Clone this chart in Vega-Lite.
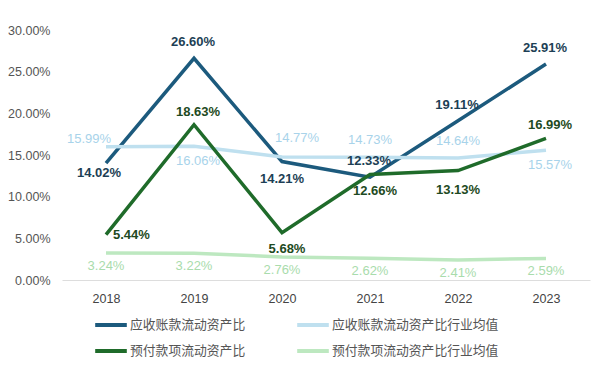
{
"$schema": "https://vega.github.io/schema/vega-lite/v6.json",
"width": 528, "height": 250,
"autosize": "none",
"padding": {"left": 62, "top": 30, "right": 10, "bottom": 98},
"config": {"view": {"stroke": null}, "font": "Liberation Sans"},
"data": {"values": [
{"year": "2018", "series": "应收账款流动资产比", "value": 0.1402},
{"year": "2019", "series": "应收账款流动资产比", "value": 0.2660},
{"year": "2020", "series": "应收账款流动资产比", "value": 0.1421},
{"year": "2021", "series": "应收账款流动资产比", "value": 0.1233},
{"year": "2022", "series": "应收账款流动资产比", "value": 0.1911},
{"year": "2023", "series": "应收账款流动资产比", "value": 0.2591},
{"year": "2018", "series": "应收账款流动资产比行业均值", "value": 0.1599},
{"year": "2019", "series": "应收账款流动资产比行业均值", "value": 0.1606},
{"year": "2020", "series": "应收账款流动资产比行业均值", "value": 0.1477},
{"year": "2021", "series": "应收账款流动资产比行业均值", "value": 0.1473},
{"year": "2022", "series": "应收账款流动资产比行业均值", "value": 0.1464},
{"year": "2023", "series": "应收账款流动资产比行业均值", "value": 0.1557},
{"year": "2018", "series": "预付款项流动资产比", "value": 0.0544},
{"year": "2019", "series": "预付款项流动资产比", "value": 0.1863},
{"year": "2020", "series": "预付款项流动资产比", "value": 0.0568},
{"year": "2021", "series": "预付款项流动资产比", "value": 0.1266},
{"year": "2022", "series": "预付款项流动资产比", "value": 0.1313},
{"year": "2023", "series": "预付款项流动资产比", "value": 0.1699},
{"year": "2018", "series": "预付款项流动资产比行业均值", "value": 0.0324},
{"year": "2019", "series": "预付款项流动资产比行业均值", "value": 0.0322},
{"year": "2020", "series": "预付款项流动资产比行业均值", "value": 0.0276},
{"year": "2021", "series": "预付款项流动资产比行业均值", "value": 0.0262},
{"year": "2022", "series": "预付款项流动资产比行业均值", "value": 0.0241},
{"year": "2023", "series": "预付款项流动资产比行业均值", "value": 0.0259}
]},
"encoding": {
  "x": {"field": "year", "type": "ordinal", "sort": null, "scale": {"type": "point", "padding": 0.5},
    "axis": {"title": null, "labelAngle": 0, "domain": true, "domainColor": "#dddddd", "domainWidth": 1, "ticks": false, "grid": false, "labelPadding": 12, "labelFontSize": 12.5, "labelColor": "#444444"}},
  "y": {"field": "value", "type": "quantitative", "scale": {"domain": [0, 0.3], "nice": false},
    "axis": {"title": null, "format": ".2%", "values": [0, 0.05, 0.1, 0.15, 0.2, 0.25, 0.3], "domain": false, "ticks": false, "grid": false, "labelPadding": 12, "labelFontSize": 12.5, "labelColor": "#555555"}}
},
"layer": [
  {"mark": {"type": "line", "strokeWidth": 3.5},
   "encoding": {"color": {"field": "series", "type": "nominal",
     "scale": {"domain": ["应收账款流动资产比", "应收账款流动资产比行业均值", "预付款项流动资产比", "预付款项流动资产比行业均值"],
               "range": ["#1c5a7d", "#bfe0ef", "#1f6b2a", "#bde8c0"]},
     "legend": {"orient": "none", "legendX": 31, "legendY": 277, "columns": 2, "direction": "horizontal", "title": null,
       "symbolType": "stroke", "symbolSize": 1000, "symbolStrokeWidth": 4, "labelFontSize": 12.8, "labelColor": "#555555",
       "labelFont": "Noto Sans CJK SC", "labelLimit": 400, "columnPadding": 43, "rowPadding": -7, "labelOffset": 1, "padding": 0}}}},
  {"transform": [{"filter": "datum.series==='应收账款流动资产比' && indexof(['2019','2021','2022','2023'], datum.year)>=0"}],
   "mark": {"type": "text", "dy": -16, "dx": -1, "fontWeight": "bold", "fontSize": 13, "color": "#1d3f55"},
   "encoding": {"text": {"field": "value", "format": ".2%"}}},
  {"transform": [{"filter": "datum.series==='应收账款流动资产比' && datum.year==='2018'"}],
   "mark": {"type": "text", "dy": 10, "dx": -7, "fontWeight": "bold", "fontSize": 13, "color": "#1d3f55"},
   "encoding": {"text": {"field": "value", "format": ".2%"}}},
  {"transform": [{"filter": "datum.series==='应收账款流动资产比' && datum.year==='2020'"}],
   "mark": {"type": "text", "dy": 17, "dx": 0, "fontWeight": "bold", "fontSize": 13, "color": "#1d3f55"},
   "encoding": {"text": {"field": "value", "format": ".2%"}}},
  {"transform": [{"filter": "datum.series==='预付款项流动资产比' && datum.year==='2018'"}],
   "mark": {"type": "text", "dx": 7, "align": "left", "fontWeight": "bold", "fontSize": 13, "color": "#1e4a22"},
   "encoding": {"text": {"field": "value", "format": ".2%"}}},
  {"transform": [{"filter": "datum.series==='预付款项流动资产比' && indexof(['2019','2023'], datum.year)>=0"}],
   "mark": {"type": "text", "dy": -13, "dx": 4, "fontWeight": "bold", "fontSize": 13, "color": "#1e4a22"},
   "encoding": {"text": {"field": "value", "format": ".2%"}}},
  {"transform": [{"filter": "datum.series==='预付款项流动资产比' && indexof(['2020','2021'], datum.year)>=0"}],
   "mark": {"type": "text", "dy": 16, "dx": 5, "fontWeight": "bold", "fontSize": 13, "color": "#1e4a22"},
   "encoding": {"text": {"field": "value", "format": ".2%"}}},
  {"transform": [{"filter": "datum.series==='预付款项流动资产比' && datum.year==='2022'"}],
   "mark": {"type": "text", "dy": 19, "dx": 0, "fontWeight": "bold", "fontSize": 13, "color": "#1e4a22"},
   "encoding": {"text": {"field": "value", "format": ".2%"}}},
  {"transform": [{"filter": "datum.series==='应收账款流动资产比行业均值' && indexof(['2021','2022'], datum.year)>=0"}],
   "mark": {"type": "text", "dy": -17, "fontSize": 13, "color": "#a8d3ea"},
   "encoding": {"text": {"field": "value", "format": ".2%"}}},
  {"transform": [{"filter": "datum.series==='应收账款流动资产比行业均值' && datum.year==='2018'"}],
   "mark": {"type": "text", "dy": -8, "dx": -17, "fontSize": 13, "color": "#a8d3ea"},
   "encoding": {"text": {"field": "value", "format": ".2%"}}},
  {"transform": [{"filter": "datum.series==='应收账款流动资产比行业均值' && datum.year==='2020'"}],
   "mark": {"type": "text", "dy": -19, "dx": 15, "fontSize": 13, "color": "#a8d3ea"},
   "encoding": {"text": {"field": "value", "format": ".2%"}}},
  {"transform": [{"filter": "datum.series==='应收账款流动资产比行业均值' && indexof(['2019','2023'], datum.year)>=0"}],
   "mark": {"type": "text", "dy": 15, "dx": 4, "fontSize": 13, "color": "#a8d3ea"},
   "encoding": {"text": {"field": "value", "format": ".2%"}}},
  {"transform": [{"filter": "datum.series==='预付款项流动资产比行业均值'"}],
   "mark": {"type": "text", "dy": 13, "fontSize": 13, "color": "#a9dcac"},
   "encoding": {"text": {"field": "value", "format": ".2%"}}}
]
}
